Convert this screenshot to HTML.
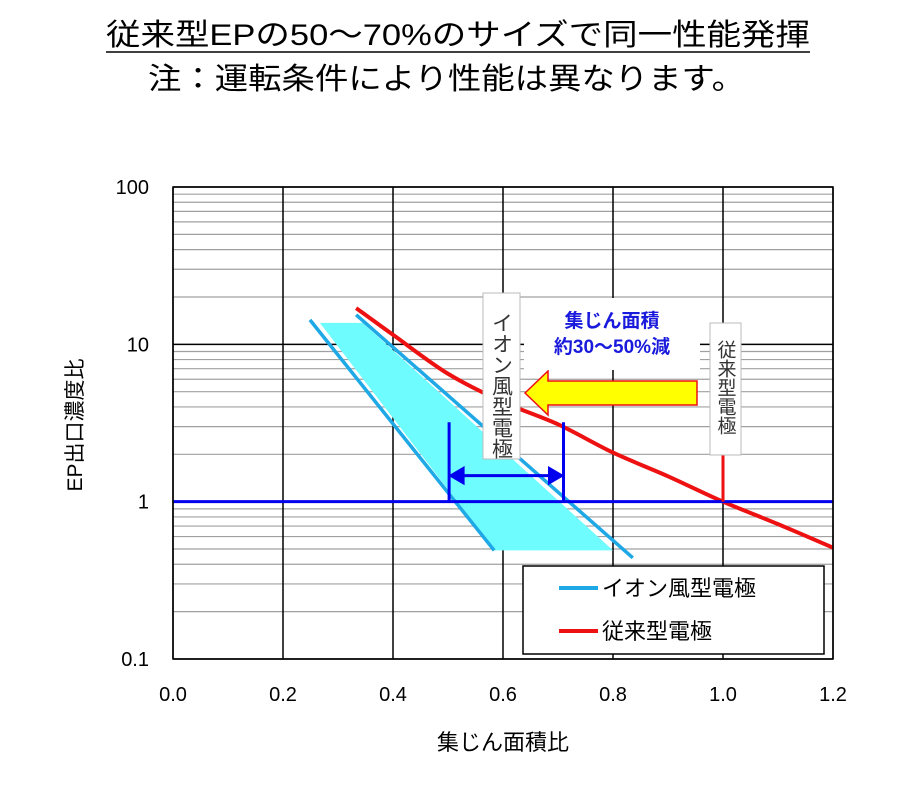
<!DOCTYPE html>
<html><head><meta charset="utf-8"><style>
body{margin:0;background:#fff;}
svg{display:block;font-family:"Liberation Sans","Noto Sans CJK JP",sans-serif;}
</style></head><body>
<svg id="chart" width="900" height="793" viewBox="0 0 900 793">
<text x="106" y="45" font-size="30" textLength="704" lengthAdjust="spacingAndGlyphs">従来型EPの50〜70%のサイズで同一性能発揮</text>
<line x1="106" y1="52" x2="810" y2="52" stroke="#000" stroke-width="1.5"/>
<text x="148" y="89" font-size="30" textLength="597" lengthAdjust="spacingAndGlyphs">注：運転条件により性能は異なります。</text>
<g id="grid"></g>
<g id="marks"></g>
<g id="axes"></g>
<text x="0" y="0" font-size="21" text-anchor="middle" transform="translate(82,425) rotate(-90)">EP出口濃度比</text>
<text x="503" y="750" font-size="22" text-anchor="middle">集じん面積比</text>
<rect x="523" y="566" width="301" height="88" fill="#fff" stroke="#000" stroke-width="1.5"/>
<line x1="559" y1="588" x2="598" y2="588" stroke="#1fa8e6" stroke-width="4"/>
<text x="602" y="596" font-size="22">イオン風型電極</text>
<line x1="559" y1="631" x2="598" y2="631" stroke="#ee1111" stroke-width="4"/>
<text x="602" y="639" font-size="22">従来型電極</text>
</svg>
<script>
const xTicks=[0,0.2,0.4,0.6,0.8,1.0,1.2];
const yTicks=[0.1,1,10,100];
const yTickLabels=["0.1","1","10","100"];
const redX=[0.333,0.4,0.5,0.6,0.7,0.8,0.9,1.0,1.1,1.2];
const redY=[17,11.5,6.5,4.3,3.1,2.05,1.45,1.0,0.72,0.51];
const ionLine1X=[0.249,0.584];
const ionLine1Y=[14.3,0.49];
const ionLine2X=[0.333,0.836];
const ionLine2Y=[15.4,0.44];
const bandX=[0.267,0.345,0.80,0.585];
const bandY=[13.7,13.7,0.49,0.49];
const refY=1;
const rangeX=[0.502,0.71];
const rangeTopY=3.2;

const L=173,R=833,T=187,B=659;
const sx=v=>L+(v-0)/(1.2-0)*(R-L);
const sy=v=>B-(Math.log10(v)+1)/3*(B-T);
const NS="http://www.w3.org/2000/svg";
function mk(tag,attrs,parent){const e=document.createElementNS(NS,tag);for(const k in attrs)e.setAttribute(k,attrs[k]);parent.appendChild(e);return e;}
function smooth(pts){let d=`M${pts[0][0]},${pts[0][1]}`;for(let i=0;i<pts.length-1;i++){const p0=pts[i-1]||pts[i],p1=pts[i],p2=pts[i+1],p3=pts[i+2]||p2;
d+=` C${p1[0]+(p2[0]-p0[0])/6},${p1[1]+(p2[1]-p0[1])/6} ${p2[0]-(p3[0]-p1[0])/6},${p2[1]-(p3[1]-p1[1])/6} ${p2[0]},${p2[1]}`;}return d;}
const grid=document.getElementById('grid'),marks=document.getElementById('marks'),axes=document.getElementById('axes');
for(let d=-1;d<2;d++){for(let m=2;m<=9;m++){const y=sy(m*Math.pow(10,d));
const l=mk('line',{x1:L,x2:R,y1:y,y2:y,stroke:'#a0a0a0','stroke-width':1.2},grid);

}}
yTicks.forEach((v,i)=>{const y=sy(v);
const l=mk('line',{x1:L,x2:R,y1:y,y2:y,stroke:'#000','stroke-width':1.5},grid);


const t=mk('text',{x:L-24,y:y+7,'font-size':20,'text-anchor':'end'},axes);t.textContent=yTickLabels[i];

});
xTicks.forEach(v=>{const x=sx(v);
const l=mk('line',{x1:x,x2:x,y1:T,y2:B,stroke:'#000','stroke-width':1.5},grid);


const t=mk('text',{x:x,y:B+42,'font-size':20,'text-anchor':'middle'},axes);t.textContent=v.toFixed(1);

});
const band=mk('polygon',{points:bandX.map((v,i)=>sx(v)+','+sy(bandY[i])).join(' '),fill:'#6ffcff'},marks);


[[ionLine1X,ionLine1Y],[ionLine2X,ionLine2Y]].forEach(([xs,ys],i)=>{
const l=mk('polyline',{points:xs.map((v,j)=>sx(v)+','+sy(ys[j])).join(' '),fill:'none',stroke:'#1fa8e6','stroke-width':3.5},marks);

});
const red=mk('path',{d:smooth(redX.map((v,j)=>[sx(v),sy(redY[j])])),fill:'none',stroke:'#ee1111','stroke-width':4},marks);


const ref=mk('line',{x1:L,x2:R,y1:sy(refY),y2:sy(refY),stroke:'#0000ee','stroke-width':3},marks);


const r1=mk('line',{x1:sx(1.0),x2:sx(1.0),y1:sy(2.2),y2:sy(refY),stroke:'#ee1111','stroke-width':3},marks);


rangeX.forEach(v=>{const l=mk('line',{x1:sx(v),x2:sx(v),y1:sy(rangeTopY),y2:sy(refY),stroke:'#0000ee','stroke-width':3},marks);

});
const ay=sy(refY)-26,ax1=sx(rangeX[0]),ax2=sx(rangeX[1]);
const ar=mk('path',{d:`M${ax1+2},${ay} l12,-7 v14 z M${ax2-2},${ay} l-12,-7 v14 z M${ax1+10},${ay} H${ax2-10}`,fill:'#0000ee',stroke:'#0000ee','stroke-width':3},marks);


const ya=mk('polygon',{points:'697,381 548,381 548,371 525,393 548,415 548,405 697,405',fill:'#ffff00',stroke:'#ee1111','stroke-width':1.5},marks);


const b1=mk('rect',{x:483,y:293,width:37,height:166,fill:'#fff',stroke:'#bbb','stroke-width':1},marks);


const t1=mk('text',{x:501,y:312,'font-size':21,'writing-mode':'vertical-rl',fill:'#333'},marks);t1.textContent='イオン風型電極';


const b2=mk('rect',{x:710,y:323,width:31,height:132,fill:'#fff',stroke:'#bbb','stroke-width':1},marks);


const t2=mk('text',{x:725,y:340,'font-size':19,'writing-mode':'vertical-rl',fill:'#333'},marks);t2.textContent='従来型電極';


const b3=mk('rect',{x:524,y:298,width:176,height:72,fill:'#fff'},marks);


const t3=mk('text',{x:612,y:327,'font-size':19,'font-weight':'bold','text-anchor':'middle',fill:'#1a1adc'},marks);t3.textContent='集じん面積';


const t4=mk('text',{x:612,y:353,'font-size':19,'font-weight':'bold','text-anchor':'middle',fill:'#1a1adc'},marks);t4.textContent='約30〜50%減';


const fr=mk('rect',{x:L,y:T,width:R-L,height:B-T,fill:'none',stroke:'#000','stroke-width':1.5},axes);


</script>
</body></html>
